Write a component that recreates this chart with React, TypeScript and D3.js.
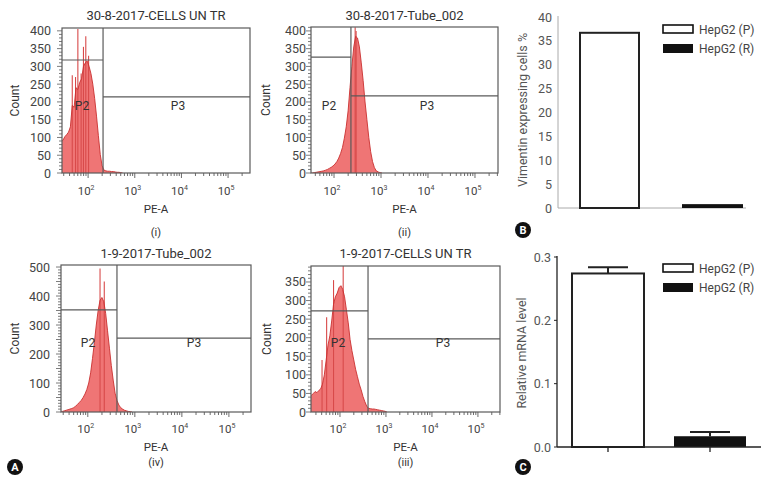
import React from "react";
import * as d3 from "d3";

const FONT = "Roboto, 'Noto Sans', sans-serif";
const BIN_W = 0.04;

// ---------- Flow cytometry histograms (A) ----------
const histTitles = ["30-8-2017-CELLS UN TR", "30-8-2017-Tube_002", "1-9-2017-Tube_002", "1-9-2017-CELLS UN TR"];
const histSubLabels = ["(i)", "(ii)", "(iv)", "(iii)"];
const histStartLog = [1.44, 1.52, 1.44, 1.36];

const countsI = [92, 102, 108, 115, 130, 190, 185, 240, 235, 255, 265, 300, 310, 315, 300, 280, 250, 210, 160, 105, 52, 20, 8, 6, 5, 5, 4, 4, 3, 2, 2, 1, 0];
const countsII = [0, 1, 2, 3, 4, 5, 6, 8, 10, 13, 16, 20, 25, 32, 42, 55, 72, 98, 130, 175, 240, 300, 355, 385, 380, 355, 310, 260, 200, 150, 100, 60, 32, 15, 6, 3, 1, 0];
const countsIV = [2, 4, 6, 8, 10, 12, 15, 20, 26, 33, 40, 50, 62, 78, 100, 135, 185, 240, 300, 350, 385, 395, 380, 340, 280, 220, 160, 110, 65, 40, 24, 15, 10, 6, 4, 2, 1, 0];
const countsIII = [45, 50, 55, 52, 58, 62, 75, 100, 140, 180, 205, 245, 290, 310, 320, 335, 340, 330, 310, 275, 240, 195, 165, 140, 115, 95, 75, 60, 42, 28, 16, 10, 9, 8, 8, 7, 6, 5, 4, 3, 2, 0];
const histCounts = [countsI, countsII, countsIV, countsIII];

const spikesI: [number, number][] = [[1.66, 275], [1.73, 270], [1.78, 405], [1.85, 280], [1.9, 355], [1.95, 385], [2.01, 330]];
const spikesII: [number, number][] = [[2.45, 410], [2.47, 400]];
const spikesIV: [number, number][] = [[2.26, 495], [2.35, 450]];
const spikesIII: [number, number][] = [[1.61, 140], [1.71, 255], [1.86, 355], [2.07, 395]];
const histSpikes = [spikesI, spikesII, spikesIV, spikesIII];

const gateLog = [2.32, 2.36, 2.62, 2.61];
const p2GateCount = [318, 326, 352, 272];
const p3GateCount = [214, 217, 255, 197];

const countTicksI = [0, 50, 100, 150, 200, 250, 300, 350, 400];
const countTicksII = [0, 50, 100, 150, 200, 250, 300, 350, 400];
const countTicksIV = [0, 100, 200, 300, 400, 500];
const countTicksIII = [0, 50, 100, 150, 200, 250, 300, 350];
const histCountTicks = [countTicksI, countTicksII, countTicksIV, countTicksIII];
const decadeTicks = [2, 3, 4, 5];

// ---------- Bar charts (B, C) ----------
const groups = ["HepG2 (P)", "HepG2 (R)"];
const vimentinPct = [36.9, 0.6];
const vimTicks = [0, 5, 10, 15, 20, 25, 30, 35, 40];
const mrnaLevel = [0.274, 0.017];
const mrnaErr = [0.01, 0.0065];
const mrnaTicks = [0, 0.1, 0.2, 0.3];

type Layout = {
  left: number; right: number; top: number; bottom: number;
  logMin: number; logMax: number; yTop: number; labelGap: number;
  titleY: number; subY: number; peY: number; tickY: number; countX: number;
  p2x: number; p3x: number; pLabelY: number;
};

const layouts: Layout[] = [
  { left: 62, right: 250, top: 28, bottom: 173, logMin: 1.44, logMax: 5.47, yTop: 408, labelGap: 11, titleY: 20, subY: 236, peY: 213, tickY: 195, countX: 19, p2x: 82, p3x: 178, pLabelY: 110 },
  { left: 311, right: 498, top: 27, bottom: 173, logMin: 1.51, logMax: 5.49, yTop: 411, labelGap: 5, titleY: 20, subY: 236, peY: 213, tickY: 195, countX: 270, p2x: 329, p3x: 427, pLabelY: 110 },
  { left: 61, right: 251, top: 265, bottom: 412, logMin: 1.43, logMax: 5.47, yTop: 507, labelGap: 11, titleY: 258, subY: 466, peY: 451, tickY: 433, countX: 19, p2x: 88, p3x: 194, pLabelY: 347 },
  { left: 311, right: 500, top: 266, bottom: 412, logMin: 1.37, logMax: 5.48, yTop: 393, labelGap: 5, titleY: 258, subY: 466, peY: 451, tickY: 433, countX: 271, p2x: 338, p3x: 443, pLabelY: 347 },
];

function Histogram({ idx }: { idx: number }) {
  const L = layouts[idx];
  const x = d3.scaleLinear().domain([L.logMin, L.logMax]).range([L.left, L.right]);
  const y = d3.scaleLinear().domain([0, L.yTop]).range([L.bottom, L.top]);
  const counts = histCounts[idx];
  const start = histStartLog[idx];
  const pts = counts.map((c, i) => ({ l: start + i * BIN_W + BIN_W / 2, c }));
  const full = [{ l: start, c: counts[0] }, ...pts];
  const area = d3.area<{ l: number; c: number }>()
    .x((d) => x(d.l)).y0(y(0)).y1((d) => y(d.c)).curve(d3.curveLinear);
  const line = d3.line<{ l: number; c: number }>()
    .x((d) => x(d.l)).y((d) => y(d.c)).curve(d3.curveLinear);
  const clipId = `clip${idx}`;
  const gx = x(gateLog[idx]);
  const minorY: number[] = d3.range(0, L.yTop, 10);
  const minorX: number[] = [];
  for (let dcd = 1; dcd <= 5; dcd++) {
    for (let m = 1; m <= 9; m++) {
      const lv = dcd + Math.log10(m);
      if (lv > L.logMin && lv < L.logMax) minorX.push(lv);
    }
  }
  const gray = "#5a5a5a";
  const cx = (L.left + L.right) / 2;
  const cy = (L.top + L.bottom) / 2;
  return (
    <g fontFamily={FONT}>
      <defs>
        <clipPath id={clipId}>
          <rect x={L.left} y={L.top} width={L.right - L.left} height={L.bottom - L.top} />
        </clipPath>
      </defs>
      <g clipPath={`url(#${clipId})`}>
        <path d={area(full) || ""} fill="#ef7575" />
        {histSpikes[idx].map(([l, c], i) => (
          <line key={i} x1={x(l)} x2={x(l)} y1={y(0)} y2={y(c)} stroke="#d84a4a" strokeWidth={1.1} />
        ))}
        <path d={line(full) || ""} fill="none" stroke="#c93030" strokeWidth={0.9} />
      </g>
      <rect x={L.left} y={L.top} width={L.right - L.left} height={L.bottom - L.top} fill="none" stroke={gray} strokeWidth={1.2} />
      {/* gates */}
      <line x1={gx} x2={gx} y1={L.top} y2={L.bottom} stroke={gray} strokeWidth={1.2} />
      <line x1={L.left} x2={gx} y1={y(p2GateCount[idx])} y2={y(p2GateCount[idx])} stroke={gray} strokeWidth={1.2} />
      <line x1={gx} x2={L.right} y1={y(p3GateCount[idx])} y2={y(p3GateCount[idx])} stroke={gray} strokeWidth={1.2} />
      <text x={L.p2x} y={L.pLabelY} fontSize={12} fill="#333" textAnchor="middle">P2</text>
      <text x={L.p3x} y={L.pLabelY} fontSize={12} fill="#333" textAnchor="middle">P3</text>
      {/* y ticks */}
      {minorY.map((v, i) => (
        <line key={i} x1={L.left - (v % 50 === 0 ? 5 : 3)} x2={L.left} y1={y(v)} y2={y(v)} stroke={gray} strokeWidth={0.8} />
      ))}
      {histCountTicks[idx].map((v) => (
        <text key={v} x={L.left - L.labelGap} y={y(v) + 4.5} fontSize={12.5} fill="#444" textAnchor="end">{v}</text>
      ))}
      {/* x ticks */}
      {minorX.map((v, i) => (
        <line key={i} x1={x(v)} x2={x(v)} y1={L.bottom} y2={L.bottom + (Math.abs(v - Math.round(v)) < 1e-6 ? 5 : 3)} stroke={gray} strokeWidth={0.9} />
      ))}
      {decadeTicks.map((d) => (
        <text key={d} x={x(d) - 2} y={L.tickY} fontSize={11.5} fill="#444" textAnchor="middle">
          10<tspan dy={-5} fontSize={7}>{d}</tspan>
        </text>
      ))}
      <text x={cx} y={L.titleY} fontSize={13} fill="#333" textAnchor="middle">{histTitles[idx]}</text>
      <text x={cx} y={L.peY} fontSize={11.5} fill="#333" textAnchor="middle">PE-A</text>
      <text x={cx} y={L.subY} fontSize={11} fill="#333" textAnchor="middle">{histSubLabels[idx]}</text>
      <text transform={`translate(${L.countX},${cy}) rotate(-90)`} fontSize={12} fill="#333" textAnchor="middle">Count</text>
    </g>
  );
}

function Legend({ x0, y0, gap }: { x0: number; y0: number; gap: number }) {
  return (
    <g fontFamily={FONT}>
      {groups.map((g, i) => (
        <g key={g}>
          <rect x={x0} y={y0 + i * gap} width={30} height={i === 0 ? 8 : 9}
            fill={i === 0 ? "#fff" : "#111"} stroke="#111" strokeWidth={i === 0 ? 1.6 : 0} />
          <text x={x0 + 36} y={y0 + i * gap + 9} fontSize={12} fill="#444">{g}</text>
        </g>
      ))}
    </g>
  );
}

function PanelB() {
  const x = d3.scalePoint<string>().domain(groups).range([558, 764]).padding(0.5);
  const y = d3.scaleLinear().domain([0, 40]).range([208, 17]);
  const bw = 61;
  return (
    <g fontFamily={FONT}>
      <line x1={558} x2={558} y1={16} y2={208} stroke="#aaa" strokeWidth={1} />
      <line x1={558} x2={746} y1={208} y2={208} stroke="#aaa" strokeWidth={1} />
      {vimTicks.map((t) => (
        <text key={t} x={552} y={y(t) + 4.5} fontSize={12.5} fill="#555" textAnchor="end">{t}</text>
      ))}
      {groups.map((g, i) => {
        const cx = x(g)!;
        return i === 0 ? (
          <rect key={g} x={cx - bw / 2 + 1} y={y(vimentinPct[i]) + 1} width={bw - 2} height={y(0) - y(vimentinPct[i]) - 1}
            fill="#fff" stroke="#222" strokeWidth={2} />
        ) : (
          <rect key={g} x={cx - bw / 2} y={y(vimentinPct[i]) - 1} width={bw} height={y(0) - y(vimentinPct[i]) + 1} fill="#111" />
        );
      })}
      <text transform={`translate(527,110) rotate(-90)`} fontSize={12.5} fill="#555" textAnchor="middle">Vimentin expressing cells %</text>
      <Legend x0={663} y0={25} gap={19} />
      <circle cx={523} cy={230} r={8} fill="#111" />
      <text x={523} y={234} fontSize={11} fontWeight="bold" fill="#fff" textAnchor="middle">B</text>
    </g>
  );
}

function PanelC() {
  const x = d3.scalePoint<string>().domain(groups).range([557, 761]).padding(0.5);
  const y = d3.scaleLinear().domain([0, 0.3]).range([447, 257]);
  const bw = 72;
  const cap = 40;
  return (
    <g fontFamily={FONT}>
      {groups.map((g, i) => {
        const cx = x(g)!;
        const top = y(mrnaLevel[i]);
        const et = y(mrnaLevel[i] + mrnaErr[i]);
        return (
          <g key={g}>
            <line x1={cx} x2={cx} y1={top} y2={et} stroke="#222" strokeWidth={2} />
            <line x1={cx - cap / 2} x2={cx + cap / 2} y1={et} y2={et} stroke="#222" strokeWidth={2} />
            {i === 0 ? (
              <rect x={cx - bw / 2} y={top} width={bw} height={y(0) - top} fill="#fff" stroke="#222" strokeWidth={2} />
            ) : (
              <rect x={cx - bw / 2} y={top} width={bw} height={y(0) - top} fill="#111" />
            )}
            <line x1={cx} x2={cx} y1={447} y2={452} stroke="#222" strokeWidth={1.3} />
          </g>
        );
      })}
      <line x1={557} x2={557} y1={256} y2={447} stroke="#222" strokeWidth={1.3} />
      <line x1={557} x2={761} y1={447} y2={447} stroke="#222" strokeWidth={1.3} />
      {mrnaTicks.map((t) => (
        <g key={t}>
          <line x1={554} x2={557} y1={y(t)} y2={y(t)} stroke="#222" strokeWidth={1} />
          <text x={551} y={y(t) + 4.5} fontSize={12.5} fill="#555" textAnchor="end">{t.toFixed(1)}</text>
        </g>
      ))}
      <text transform={`translate(526,353) rotate(-90)`} fontSize={12.5} fill="#555" textAnchor="middle">Relative mRNA level</text>
      <Legend x0={663} y0={264} gap={19} />
      <circle cx={523} cy={467} r={8} fill="#111" />
      <text x={523} y={471} fontSize={11} fontWeight="bold" fill="#fff" textAnchor="middle">C</text>
    </g>
  );
}

export default function App() {
  return (
    <svg width={767} height={485} style={{ position: "absolute", left: 0, top: 0, background: "#fff" }}>
      <rect width={767} height={485} fill="#fff" />
      {[0, 1, 2, 3].map((i) => <Histogram key={i} idx={i} />)}
      <circle cx={15} cy={467} r={8} fill="#111" />
      <text x={15} y={471} fontSize={11} fontWeight="bold" fill="#fff" textAnchor="middle" fontFamily={FONT}>A</text>
      <PanelB />
      <PanelC />
    </svg>
  );
}
